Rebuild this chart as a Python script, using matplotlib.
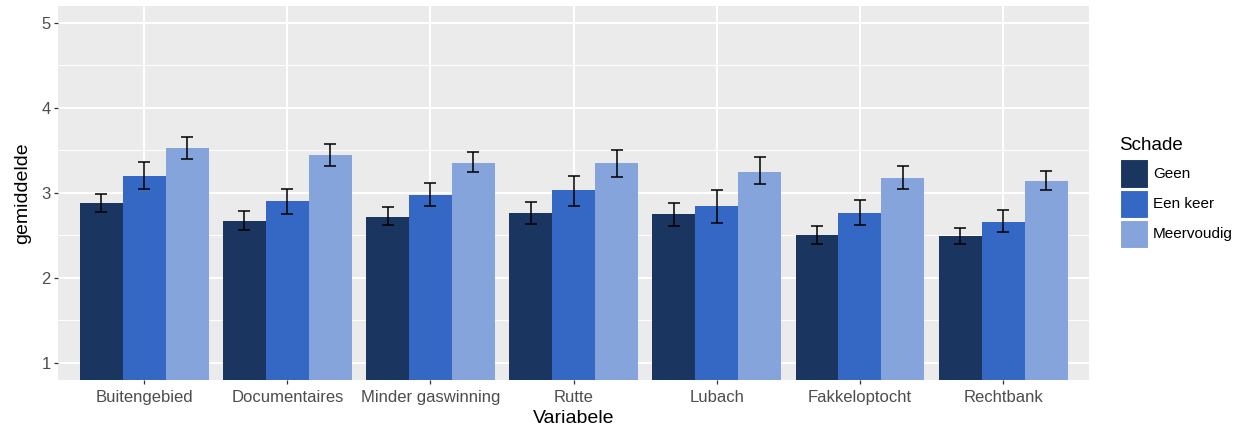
import numpy as np
import matplotlib
matplotlib.use("Agg")
import matplotlib.pyplot as plt
from matplotlib.patches import Rectangle

plt.rcParams["font.family"] = ["Liberation Sans", "DejaVu Sans"]

# ── data ───────────────────────────────────────────────────────────────────
categories = ["Buitengebied", "Documentaires", "Minder gaswinning", "Rutte",
              "Lubach", "Fakkeloptocht", "Rechtbank"]
groups = ["Geen", "Een keer", "Meervoudig"]

mean_geen = [2.88, 2.67, 2.72, 2.76, 2.75, 2.50, 2.49]
lo_geen   = [2.77, 2.56, 2.62, 2.63, 2.61, 2.40, 2.40]
hi_geen   = [2.99, 2.79, 2.83, 2.89, 2.88, 2.61, 2.59]

mean_een  = [3.20, 2.90, 2.98, 3.03, 2.84, 2.76, 2.66]
lo_een    = [3.05, 2.75, 2.85, 2.85, 2.65, 2.62, 2.54]
hi_een    = [3.36, 3.05, 3.12, 3.20, 3.03, 2.92, 2.80]

mean_meer = [3.53, 3.44, 3.35, 3.35, 3.25, 3.18, 3.14]
lo_meer   = [3.40, 3.31, 3.24, 3.19, 3.10, 3.05, 3.03]
hi_meer   = [3.66, 3.58, 3.48, 3.50, 3.42, 3.31, 3.26]

colors = ["#1b3561", "#3568c4", "#85a4db"]

# ── figure ─────────────────────────────────────────────────────────────────
W, H = 1245, 432
fig = plt.figure(figsize=(W / 100, H / 100), dpi=100)
ax = fig.add_axes([58.3 / W, 1 - 380 / H, (1089 - 58.3) / W, (380 - 5.7) / H])
ax.set_facecolor("#ebebeb")

x = np.arange(len(categories))
width = 0.3
series = [(mean_geen, lo_geen, hi_geen),
          (mean_een, lo_een, hi_een),
          (mean_meer, lo_meer, hi_meer)]

for i, ((m, lo, hi), col, lbl) in enumerate(zip(series, colors, groups)):
    m, lo, hi = np.array(m), np.array(lo), np.array(hi)
    xpos = x + (i - 1) * width
    ax.bar(xpos, m, width, color=col, label=lbl, zorder=2)
    ax.errorbar(xpos, m, yerr=[m - lo, hi - m], fmt="none", ecolor="black",
                elinewidth=1.1, capsize=4, capthick=1.1, zorder=3)

ax.set_xlim(-0.6, len(categories) - 0.4)
ax.set_ylim(0.8, 5.2)

# ggplot-like grid
ax.set_yticks([1, 2, 3, 4, 5])
ax.set_yticks([1.5, 2.5, 3.5, 4.5], minor=True)
ax.grid(True, which="major", axis="both", color="white", linewidth=1.5, zorder=0)
ax.grid(True, which="minor", axis="y", color="white", linewidth=0.7, zorder=0)
ax.set_axisbelow(True)
for s in ax.spines.values():
    s.set_visible(False)

ax.set_xticks(x)
ax.set_xticklabels(categories)
ax.tick_params(axis="both", which="major", color="#333333", length=3, width=0.9,
               labelsize=12, labelcolor="#4d4d4d", pad=2.5)
ax.tick_params(axis="x", which="major", pad=4)
ax.tick_params(axis="both", which="minor", length=0)
ax.set_xlabel("Variabele", fontsize=14, color="black", labelpad=4)
ax.set_ylabel("gemiddelde", fontsize=14, color="black", labelpad=7)

# legend drawn in figure pixels, ggplot style
fig.text(1119 / W, 1 - 145 / H, "Schade", fontsize=13.5, ha="left", va="center")
for i, (col, lbl) in enumerate(zip(colors, groups)):
    top = 159 + i * 30
    fig.patches.append(Rectangle((1120 / W, 1 - (top + 29) / H), 28 / W, 28.5 / H,
                                 transform=fig.transFigure, facecolor=col,
                                 edgecolor="white", linewidth=0.8))
    fig.text(1153 / W, 1 - (top + 15) / H, lbl, fontsize=11, ha="left", va="center")

fig.savefig("out.png", dpi=100)
